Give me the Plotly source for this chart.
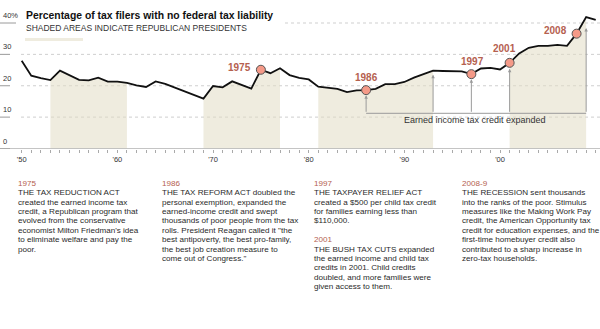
import plotly.graph_objects as go

# ---------------- data ----------------
years = list(range(1950, 2011))
pct = [28.0, 23.2, 22.4, 21.8, 24.8, 23.4, 21.9, 21.7, 22.6, 21.3,
       21.3, 20.9, 20.1, 19.6, 21.4, 20.6, 19.4, 18.2, 17.1, 15.9,
       19.9, 19.5, 21.4, 20.3, 19.1, 25.1, 24.0, 25.6, 23.4, 22.5,
       22.0, 19.7, 19.3, 19.0, 18.0, 18.5, 18.6, 19.0, 20.5, 20.5,
       21.2, 22.6, 23.7, 24.8, 24.7, 24.7, 24.6, 23.7, 25.5, 25.7,
       25.2, 27.3, 30.3, 32.1, 32.7, 32.7, 33.0, 32.7, 36.6, 41.9,
       41.0]

rep_start = [1953, 1969, 1981, 2001]
rep_end = [1961, 1977, 1993, 2009]

hl_years = [1975, 1986, 1997, 2001, 2008]
hl_labels = ["1975", "1986", "1997", "2001", "2008"]

eitc_years = [1986, 1993, 1997, 2001, 2009]
eitc_label = "Earned income tax credit expanded"

ytick_vals = [0, 10, 20, 30, 40]
ytick_text = ["0", "10", "20", "30", "40%"]
xtick_decades = [1950, 1960, 1970, 1980, 1990, 2000, 2010]
xtick_text = ["'50", "'60", "'70", "'80", "'90", "'00", "'10"]

title = "Percentage of tax filers with no federal tax liability"
subtitle = "SHADED AREAS INDICATE REPUBLICAN PRESIDENTS"

notes = [
    ["1975", "THE TAX REDUCTION ACT", "created the earned income tax",
     "credit, a Republican program that", "evolved from the conservative",
     "economist Milton Friedman's idea", "to eliminate welfare and pay the",
     "poor."],
    ["1986", "THE TAX REFORM ACT doubled the", "personal exemption, expanded the",
     "earned-income credit and swept", "thousands of poor people from the tax",
     "rolls. President Reagan called it \"the", "best antipoverty, the best pro-family,",
     "the best job creation measure to", "come out of Congress.\""],
    ["1997", "THE TAXPAYER RELIEF ACT", "created a $500 per child tax credit",
     "for families earning less than", "$110,000.", "",
     "2001", "THE BUSH TAX CUTS expanded", "the earned income and child tax",
     "credits in 2001. Child credits", "doubled, and more families were",
     "given access to them."],
    ["2008-9", "THE RECESSION sent thousands", "into the ranks of the poor. Stimulus",
     "measures like the Making Work Pay", "credit, the American Opportunity tax",
     "credit for education expenses, and the", "first-time homebuyer credit also",
     "contributed to a sharp increase in", "zero-tax households."],
]
note_years = {"1975", "1986", "1997", "2001", "2008-9"}

# ---------------- layout constants ----------------
W, H = 600, 329
FONT = "Liberation Sans, Arial, sans-serif"
BEIGE = "rgba(226,220,196,0.55)"
LABEL_RED = "#b5614f"
DOT_FILL = "#f59a88"
TEXT = "#333333"

def py(p):
    return 1 - p / H

def px(p):
    return p / W

# axis geometry (pixels)
x0_px, px_per_year = 21.7, 9.567
y0_px, px_per_unit = 148.5, 3.1375
xr = [1950 - x0_px / px_per_year, 1950 + (W - x0_px) / px_per_year]
ytop = 45
ydom = [py(y0_px), py(y0_px - ytop * px_per_unit)]

fig = go.Figure()

# shaded Republican presidencies
for s, e in zip(rep_start, rep_end):
    xs = [y for y in years if s <= y <= e]
    ys = [pct[years.index(y)] for y in xs]
    fig.add_trace(go.Scatter(x=xs, y=ys, mode="none", fill="tozeroy",
                             fillcolor=BEIGE, hoverinfo="skip", showlegend=False))

# main line
fig.add_trace(go.Scatter(x=years, y=pct, mode="lines",
                         line=dict(color="#111111", width=1.8),
                         showlegend=False))

# highlight dots
hl_vals = [pct[years.index(y)] for y in hl_years]
fig.add_trace(go.Scatter(x=hl_years, y=hl_vals, mode="markers",
                         marker=dict(size=9, color=DOT_FILL,
                                     line=dict(color="#555555", width=1)),
                         showlegend=False))

shapes = []
annotations = []

# gridlines
for v in ytick_vals[1:]:
    x_start = 285 if v == 40 else 21
    shapes.append(dict(type="line", xref="paper", yref="y",
                       x0=px(x_start), x1=1, y0=v, y1=v, layer="below",
                       line=dict(color="#cfcfcf", width=1, dash="dot")))
# short underline under y labels + y labels
for v, t in zip(ytick_vals, ytick_text):
    shapes.append(dict(type="line", xref="paper", yref="y",
                       x0=0, x1=px(16 if t.endswith("%") else 10), y0=v, y1=v,
                       line=dict(color="#9a9a9a", width=1)))
    annotations.append(dict(xref="paper", yref="y", x=px(0.5), y=v,
                            text=t, showarrow=False, xanchor="left",
                            yanchor="bottom", yshift=1,
                            font=dict(family=FONT, size=7.5, color=TEXT)))

# x axis line
shapes.append(dict(type="line", xref="paper", yref="y", x0=0, x1=1, y0=0, y1=0,
                   line=dict(color="#8a8a8a", width=1)))

# EITC bracket
bracket = (y0_px - 113.3) / px_per_unit
shapes.append(dict(type="line", xref="x", yref="y",
                   x0=eitc_years[0], x1=eitc_years[-1], y0=bracket, y1=bracket,
                   line=dict(color="#9a9a9a", width=1)))
standoffs = {1986: 5, 1993: 4, 1997: 5, 2001: 6, 2009: 11}
for y in eitc_years:
    annotations.append(dict(xref="x", yref="y", x=y, y=pct[years.index(y)],
                            axref="x", ayref="y", ax=y, ay=bracket, text="",
                            showarrow=True, arrowhead=2, arrowsize=0.7,
                            arrowwidth=1, arrowcolor="#9a9a9a",
                            standoff=standoffs[y]))
annotations.append(dict(xref="x", yref="y",
                        x=(eitc_years[0] + eitc_years[-1]) / 2 - 0.1, y=bracket,
                        text=eitc_label, showarrow=False, yanchor="middle",
                        yshift=-6.5,
                        font=dict(family=FONT, size=9, color=TEXT)))

# highlight labels
lab_pos = {1975: ("right", -8, 2), 1986: ("center", 0, 12.5),
           1997: ("center", 1, 13), 2001: ("center", -5, 14),
           2008: ("right", -8, 3)}
for y, t, v in zip(hl_years, hl_labels, hl_vals):
    xa, xs_, ys_ = lab_pos[y]
    annotations.append(dict(xref="x", yref="y", x=y, y=v, text="<b>%s</b>" % t,
                            showarrow=False, xanchor=xa, yanchor="middle",
                            xshift=xs_, yshift=ys_,
                            font=dict(family=FONT, size=10, color=LABEL_RED)))

# title & subtitle & legend swatch
annotations.append(dict(xref="paper", yref="paper", x=px(24), y=py(15.5),
                        text="<b>%s</b>" % title, showarrow=False,
                        xanchor="left", yanchor="middle",
                        font=dict(family=FONT, size=10.4, color="#111111")))
annotations.append(dict(xref="paper", yref="paper", x=px(24), y=py(28.2),
                        text=subtitle, showarrow=False,
                        xanchor="left", yanchor="middle",
                        font=dict(family=FONT, size=8.5, color=TEXT)))
shapes.append(dict(type="rect", xref="paper", yref="paper",
                   x0=px(25), x1=px(83), y0=py(41), y1=py(38),
                   fillcolor=BEIGE, line=dict(width=0)))

# notes below
col_x = [16, 160, 312, 460]
for cx, lines in zip(col_x, notes):
    for i, line in enumerate(lines):
        if not line:
            continue
        is_year = line in note_years
        annotations.append(dict(xref="paper", yref="paper", x=px(cx),
                                y=py(183.3 + i * 9.4), text=line,
                                showarrow=False, xanchor="left",
                                yanchor="middle",
                                font=dict(family=FONT, size=8.1,
                                          color=LABEL_RED if is_year else "#2a2a2a")))

tickvals = years
ticktext = [xtick_text[xtick_decades.index(y)] if y in xtick_decades else ""
            for y in years]

fig.update_layout(
    width=W, height=H,
    margin=dict(l=0, r=0, t=0, b=0),
    paper_bgcolor="white", plot_bgcolor="white",
    showlegend=False,
    xaxis=dict(range=xr, domain=[0, 1], showgrid=False, zeroline=False,
               showline=False, tickmode="array", tickvals=tickvals,
               ticktext=ticktext, ticks="outside", ticklen=3,
               tickcolor="#aaaaaa", tickwidth=1,
               tickfont=dict(family=FONT, size=7.5, color=TEXT)),
    yaxis=dict(range=[0, ytop], domain=ydom, showgrid=False, zeroline=False,
               showline=False, showticklabels=False, ticks=""),
    shapes=shapes,
    annotations=annotations,
)

fig.write_html("out.html")
